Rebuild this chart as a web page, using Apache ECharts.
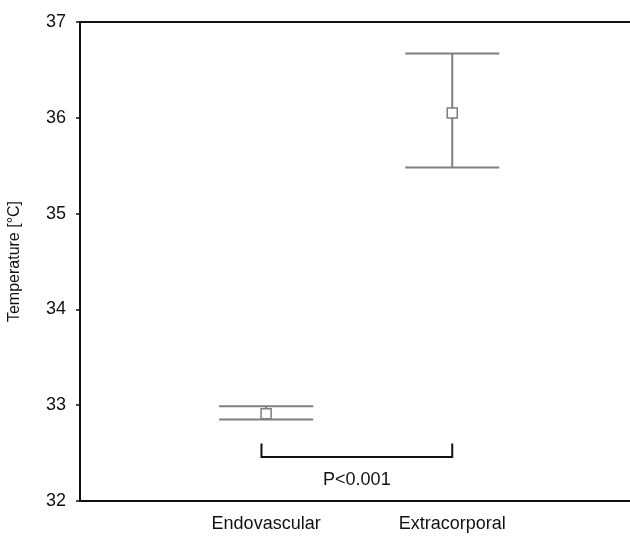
<!DOCTYPE html>
<html>
<head>
<meta charset="utf-8">
<script src="https://cdn.jsdelivr.net/npm/echarts@6/dist/echarts.min.js"></script>
<style>
  html, body { margin: 0; padding: 0; background: #fff; }
  #chart { width: 630px; height: 544px; }
</style>
</head>
<body>
<div id="chart"></div>
<script>
// data
var groups = ['Endovascular', 'Extracorporal'];
var groupPos = [1, 2];
var means = [32.91, 36.05];
var lowers = [32.85, 35.48];
var uppers = [32.99, 36.67];
var yTicks = [32, 33, 34, 35, 36, 37];
var pText = 'P<0.001';
var bracketX = [0.975, 2.0];
var bracketLevel = 32.46;
var bracketTip = 32.60;
var pTextLevel = 32.22;

var barColor = '#7f7f7f';
var fontFam = 'Liberation Sans, Arial, sans-serif';

var errData = groupPos.map(function (p, i) {
  return [p, means[i], lowers[i], uppers[i]];
});

var chart = echarts.init(document.getElementById('chart'));

chart.setOption({
  animation: false,
  backgroundColor: '#fff',
  textStyle: { fontFamily: fontFam },
  grid: { left: 80, right: 0, top: 22, bottom: 43, containLabel: false, outerBoundsMode: 'none' },
  xAxis: [{
    type: 'value',
    min: 0,
    max: 2.955,
    interval: 1,
    position: 'bottom',
    splitLine: { show: false },
    axisLine: { lineStyle: { color: '#111', width: 2 } },
    axisTick: { show: false },
    axisLabel: {
      margin: 14,
      color: '#111',
      fontSize: 18,
      formatter: function (v) {
        var i = groupPos.indexOf(v);
        return i >= 0 ? groups[i] : '';
      }
    }
  }, {
    type: 'value',
    min: 0,
    max: 2.955,
    position: 'top',
    splitLine: { show: false },
    axisLine: { show: true, lineStyle: { color: '#111', width: 2 } },
    axisTick: { show: false },
    axisLabel: { show: false }
  }],
  yAxis: {
    type: 'value',
    min: yTicks[0],
    max: yTicks[yTicks.length - 1],
    interval: 1,
    name: 'Temperature [°C]',
    nameLocation: 'middle',
    nameGap: 57,
    nameTextStyle: { color: '#111', fontSize: 16 },
    splitLine: { show: false },
    axisLine: { show: true, lineStyle: { color: '#111', width: 2 } },
    axisTick: { show: true, length: 4, lineStyle: { color: '#111', width: 1.5 } },
    axisLabel: { color: '#111', fontSize: 18, margin: 14 }
  },
  series: [{
    type: 'custom',
    xAxisIndex: 0,
    data: errData,
    renderItem: function (params, api) {
      var x = api.value(0);
      var mid = api.coord([x, api.value(1)]);
      var lo = api.coord([x, api.value(2)]);
      var hi = api.coord([x, api.value(3)]);
      var half = 47;
      var style = { stroke: barColor, lineWidth: 2 };
      var sq = 10;
      return {
        type: 'group',
        children: [
          { type: 'line', shape: { x1: lo[0], y1: lo[1], x2: hi[0], y2: hi[1] }, style: style },
          { type: 'line', shape: { x1: lo[0] - half, y1: lo[1], x2: lo[0] + half, y2: lo[1] }, style: style },
          { type: 'line', shape: { x1: hi[0] - half, y1: hi[1], x2: hi[0] + half, y2: hi[1] }, style: style },
          { type: 'rect', shape: { x: mid[0] - sq / 2, y: mid[1] - sq / 2, width: sq, height: sq },
            style: { fill: '#fff', stroke: barColor, lineWidth: 1.5 } }
        ]
      };
    }
  }, {
    type: 'custom',
    xAxisIndex: 0,
    data: [[bracketX[0], bracketX[1], bracketLevel, bracketTip, pTextLevel]],
    renderItem: function (params, api) {
      var a = api.coord([api.value(0), api.value(2)]);
      var b = api.coord([api.value(1), api.value(2)]);
      var tip = api.coord([api.value(0), api.value(3)]);
      var t = api.coord([(api.value(0) + api.value(1)) / 2, api.value(4)]);
      var style = { stroke: '#111', lineWidth: 2, fill: null };
      return {
        type: 'group',
        children: [
          { type: 'polyline', shape: { points: [[a[0], tip[1]], [a[0], a[1]], [b[0], b[1]], [b[0], tip[1]]] }, style: style },
          { type: 'text', x: t[0], y: t[1],
            style: { text: pText, fill: '#111', fontSize: 18, align: 'center', verticalAlign: 'middle',
                     fontFamily: fontFam } }
        ]
      };
    }
  }]
});
</script>
</body>
</html>
